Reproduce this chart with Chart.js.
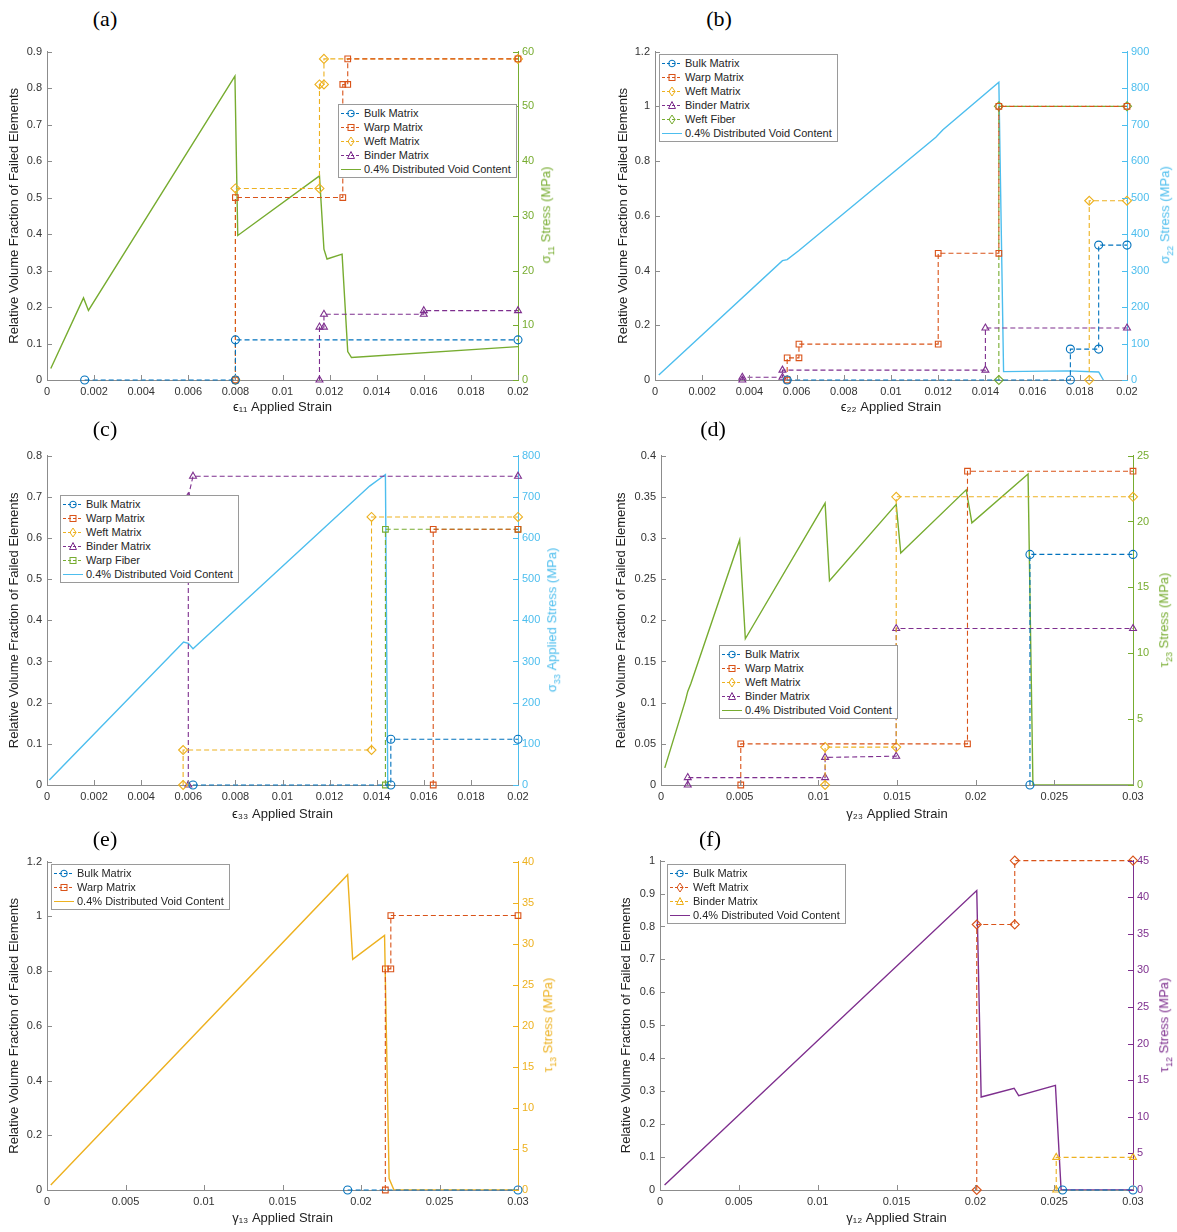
<!DOCTYPE html>
<html>
<head>
<meta charset="utf-8">
<script src="https://cdn.jsdelivr.net/npm/chart.js@4.4.0/dist/chart.umd.min.js"></script>
<style>
  body { margin: 0; background: #fff; width: 1177px; height: 1232px; position: relative; overflow: hidden;
         font-family: "Liberation Sans", Arial, Helvetica, sans-serif; }
  canvas { position: absolute; }
  .tag { position: absolute; transform: translate(-50%, -50%); font-family: "Liberation Serif", "Times New Roman", serif;
         font-size: 22px; color: #000; }
  .rtitle { position: absolute; transform: translate(-50%, -50%) rotate(-90deg); white-space: nowrap; font-size: 13px; }
  .rtitle sub { font-size: 9px; }
  .legend { position: absolute; background: #fff; border: 1px solid #9a9a9a; padding: 1px 5px 1px 1px;
            font-size: 11px; color: #262626; white-space: nowrap; }
  .legend .row { height: 14px; line-height: 14px; display: flex; align-items: center; }
  .legend svg { margin-right: 2px; }
</style>
</head>
<body>
<script>
// ---- data ----
// (a) e11
const aRange = { x: [0, 0.02, 0.002], y: [0, 0.9, 0.1], y2: [0, 60, 10] };
const aStressX = [0.00016, 0.00155, 0.00176, 0.00798, 0.0081, 0.01157, 0.01176, 0.01189, 0.01253, 0.01277, 0.01293, 0.02];
const aStressY = [2.1, 15.0, 12.7, 55.5, 26.4, 37.3, 23.9, 22.1, 23.0, 5.2, 4.1, 6.1];
const aBulkX = [0.0016, 0.008, 0.008, 0.02];
const aBulkY = [0, 0, 0.11, 0.11];
const aWarpX = [0.008, 0.008, 0.01256, 0.01256, 0.01277, 0.01277, 0.02];
const aWarpY = [0, 0.5, 0.5, 0.81, 0.81, 0.88, 0.88];
const aWeftX = [0.008, 0.008, 0.01157, 0.01157, 0.01176, 0.01176, 0.02];
const aWeftY = [0, 0.525, 0.525, 0.81, 0.81, 0.88, 0.88];
const aBinderX = [0.01157, 0.01157, 0.01176, 0.01176, 0.016, 0.016, 0.02];
const aBinderY = [0, 0.145, 0.145, 0.18, 0.18, 0.19, 0.19];

// (b) e22
const bRange = { x: [0, 0.02, 0.002], y: [0, 1.2, 0.2], y2: [0, 900, 100] };
const bStressX = [0.00016, 0.0054, 0.0056, 0.0061, 0.0119, 0.0122, 0.01457, 0.01477, 0.0175, 0.0188, 0.019];
const bStressY = [14, 327, 330, 355, 665, 686, 816, 23, 25, 22, 0];
const bBulkX = [0.0056, 0.0176, 0.0176, 0.0188, 0.0188, 0.02];
const bBulkY = [0, 0, 0.113, 0.113, 0.493, 0.493];
const bWarpX = [0.0056, 0.0056, 0.0061, 0.0061, 0.012, 0.012, 0.01457, 0.01457, 0.02];
const bWarpY = [0, 0.081, 0.081, 0.131, 0.131, 0.463, 0.463, 1, 1];
const bWeftX = [0.0184, 0.0184, 0.02];
const bWeftY = [0, 0.655, 0.655];
const bBinderX = [0.0037, 0.0037, 0.0054, 0.0054, 0.014, 0.014, 0.02];
const bBinderY = [0, 0.01, 0.01, 0.036, 0.036, 0.19, 0.19];
const bFiberX = [0.01457, 0.01457, 0.02];
const bFiberY = [0, 1, 1];

// (c) e33
const cRange = { x: [0, 0.02, 0.002], y: [0, 0.8, 0.1], y2: [0, 800, 100] };
const cStressX = [0.0001, 0.0058, 0.006, 0.0062, 0.0137, 0.01437, 0.01447, 0.0146];
const cStressY = [12, 347, 344, 331, 726, 754, 0, 0];
const cBulkX = [0.0062, 0.0146, 0.0146, 0.02];
const cBulkY = [0, 0, 0.111, 0.111];
const cWarpX = [0.0164, 0.0164, 0.02];
const cWarpY = [0, 0.621, 0.621];
const cWeftX = [0.00578, 0.00578, 0.01378, 0.01378, 0.02];
const cWeftY = [0, 0.085, 0.085, 0.651, 0.651];
const cBinderX = [0.006, 0.006, 0.0062, 0.02];
const cBinderY = [0, 0.7, 0.75, 0.75];
const cFiberX = [0.01437, 0.01437, 0.02];
const cFiberY = [0, 0.621, 0.621];

// (d) g23
const dRange = { x: [0, 0.03, 0.005], y: [0, 0.4, 0.05], y2: [0, 25, 5] };
const dStressX = [0.00024, 0.00155, 0.0017, 0.0019, 0.005, 0.00536, 0.01043, 0.01071, 0.01495, 0.01524, 0.0194, 0.01976, 0.02333, 0.02364, 0.03];
const dStressY = [1.3, 6.4, 7.1, 7.7, 18.6, 11.1, 21.4, 15.5, 21.3, 17.6, 22.4, 19.9, 23.6, 0, 0];
const dBulkX = [0.02345, 0.02345, 0.03];
const dBulkY = [0, 0.28, 0.28];
const dWarpX = [0.00507, 0.00507, 0.01948, 0.01948, 0.03];
const dWarpY = [0, 0.05, 0.05, 0.381, 0.381];
const dWeftX = [0.01043, 0.01043, 0.01495, 0.01495, 0.03];
const dWeftY = [0, 0.046, 0.046, 0.35, 0.35];
const dBinderX = [0.0017, 0.0017, 0.01043, 0.01043, 0.01495, 0.01495, 0.03];
const dBinderY = [0, 0.009, 0.009, 0.0335, 0.035, 0.19, 0.19];

// (e) g13
const eRange = { x: [0, 0.03, 0.005], y: [0, 1.2, 0.2], y2: [0, 40, 5] };
const eStressX = [0.00024, 0.01915, 0.01947, 0.0215, 0.02179, 0.0221, 0.03];
const eStressY = [0.6, 38.4, 28.1, 31.0, 1.4, 0, 0];
const eBulkX = [0.01915, 0.03];
const eBulkY = [0, 0];
const eWarpX = [0.02155, 0.02155, 0.0219, 0.0219, 0.03];
const eWarpY = [0, 0.808, 0.808, 1.003, 1.003];

// (f) g12
const fRange = { x: [0, 0.03, 0.005], y: [0, 1, 0.1], y2: [0, 45, 5] };
const fStressX = [0.00029, 0.02009, 0.02037, 0.02246, 0.02275, 0.02508, 0.02544, 0.03];
const fStressY = [0.68, 40.9, 12.7, 13.9, 12.9, 14.3, 0, 0];
const fBulkX = [0.02553, 0.03];
const fBulkY = [0, 0];
const fWeftX = [0.02009, 0.02009, 0.0225, 0.0225, 0.03];
const fWeftY = [0, 0.806, 0.806, 1, 1];
const fBinderX = [0.02513, 0.02513, 0.03];
const fBinderY = [0, 0.099, 0.099];

// MATLAB default colours
const BLUE = '#0072BD', RED = '#D95319', YELLOW = '#EDB120', PURPLE = '#7E2F8E', GREEN = '#77AC30', CYAN = '#4DBEEE';

const zip = (xs, ys) => xs.map((x, i) => ({ x: x, y: ys[i] }));
const fmt = v => String(parseFloat(Number(v).toFixed(5)));

function fail(label, color, marker, xs, ys) {
    return { label: label, color: color, marker: marker, xs: xs, ys: ys };
}

const panels = [
    { tag: '(a)', tagPos: [105, 19], box: [0, 40, 590, 378], plot: [47, 50, 518, 380], yPad: 7,
      range: aRange, xTitle: 'ϵ₁₁ Applied Strain', y2Title: 'σ<sub>11</sub> Stress (MPa)', y2Pos: 547,
      stressColor: GREEN, stress: [aStressX, aStressY], legend: [338, 104],
      series: [fail('Bulk Matrix', BLUE, 'circle', aBulkX, aBulkY),
               fail('Warp Matrix', RED, 'rect', aWarpX, aWarpY),
               fail('Weft Matrix', YELLOW, 'rectRot', aWeftX, aWeftY),
               fail('Binder Matrix', PURPLE, 'triangle', aBinderX, aBinderY)] },
    { tag: '(b)', tagPos: [719, 19], box: [590, 40, 587, 378], plot: [655, 50, 1127, 380], yPad: 26,
      range: bRange, xTitle: 'ϵ₂₂ Applied Strain', y2Title: 'σ<sub>22</sub> Stress (MPa)', y2Pos: 1166,
      stressColor: CYAN, stress: [bStressX, bStressY], legend: [659, 54],
      series: [fail('Bulk Matrix', BLUE, 'circle', bBulkX, bBulkY),
               fail('Warp Matrix', RED, 'rect', bWarpX, bWarpY),
               fail('Weft Matrix', YELLOW, 'rectRot', bWeftX, bWeftY),
               fail('Binder Matrix', PURPLE, 'triangle', bBinderX, bBinderY),
               fail('Weft Fiber', GREEN, 'rectRot', bFiberX, bFiberY)] },
    { tag: '(c)', tagPos: [105, 429], box: [0, 444, 590, 381], plot: [47, 454, 518, 785], yPad: 7,
      range: cRange, xTitle: 'ϵ₃₃ Applied Strain', y2Title: 'σ<sub>33</sub> Applied Stress (MPa)', y2Pos: 553,
      stressColor: CYAN, stress: [cStressX, cStressY], legend: [60, 495],
      series: [fail('Bulk Matrix', BLUE, 'circle', cBulkX, cBulkY),
               fail('Warp Matrix', RED, 'rect', cWarpX, cWarpY),
               fail('Weft Matrix', YELLOW, 'rectRot', cWeftX, cWeftY),
               fail('Binder Matrix', PURPLE, 'triangle', cBinderX, cBinderY),
               fail('Warp Fiber', GREEN, 'rect', cFiberX, cFiberY)] },
    { tag: '(d)', tagPos: [713, 429], box: [590, 444, 587, 381], plot: [661, 454, 1133, 785], yPad: 24,
      range: dRange, xTitle: 'γ₂₃ Applied Strain', y2Title: 'τ<sub>23</sub> Stress (MPa)', y2Pos: 1165,
      stressColor: GREEN, stress: [dStressX, dStressY], legend: [719, 645],
      series: [fail('Bulk Matrix', BLUE, 'circle', dBulkX, dBulkY),
               fail('Warp Matrix', RED, 'rect', dWarpX, dWarpY),
               fail('Weft Matrix', YELLOW, 'rectRot', dWeftX, dWeftY),
               fail('Binder Matrix', PURPLE, 'triangle', dBinderX, dBinderY)] },
    { tag: '(e)', tagPos: [105, 839], box: [0, 850, 590, 379], plot: [47, 860, 518, 1190], yPad: 7,
      range: eRange, xTitle: 'γ₁₃ Applied Strain', y2Title: 'τ<sub>13</sub> Stress (MPa)', y2Pos: 549,
      stressColor: YELLOW, stress: [eStressX, eStressY], legend: [51, 864],
      series: [fail('Bulk Matrix', BLUE, 'circle', eBulkX, eBulkY),
               fail('Warp Matrix', RED, 'rect', eWarpX, eWarpY)] },
    { tag: '(f)', tagPos: [710, 839], box: [590, 849, 587, 380], plot: [660, 859, 1133, 1190], yPad: 29,
      range: fRange, xTitle: 'γ₁₂ Applied Strain', y2Title: 'τ<sub>12</sub> Stress (MPa)', y2Pos: 1165,
      stressColor: PURPLE, stress: [fStressX, fStressY], legend: [667, 864],
      series: [fail('Bulk Matrix', BLUE, 'circle', fBulkX, fBulkY),
               fail('Weft Matrix', RED, 'rectRot', fWeftX, fWeftY),
               fail('Binder Matrix', YELLOW, 'triangle', fBinderX, fBinderY)] }
];

Chart.defaults.font.family = '"Liberation Sans", Arial, Helvetica, sans-serif';
Chart.defaults.font.size = 11;
Chart.defaults.color = '#333';

// MATLAB style ticks pointing into the plot
const inwardTicks = {
    id: 'inwardTicks',
    afterDraw(chart) {
        const ctx = chart.ctx, a = chart.chartArea;
        ctx.save();
        ctx.lineWidth = 1;
        ['x', 'y', 'y2'].forEach(id => {
            const s = chart.scales[id];
            ctx.strokeStyle = s.options.border.color;
            s.ticks.forEach(t => {
                const p = Math.round(s.getPixelForValue(t.value)) + 0.5;
                ctx.beginPath();
                if (id === 'x') { ctx.moveTo(p, a.bottom); ctx.lineTo(p, a.bottom - 5); }
                else if (id === 'y') { ctx.moveTo(a.left, p); ctx.lineTo(a.left + 5, p); }
                else { ctx.moveTo(a.right, p); ctx.lineTo(a.right - 5, p); }
                ctx.stroke();
            });
        });
        ctx.restore();
    }
};

function legendSymbol(ds) {
    const c = ds.borderColor;
    const dash = ds.borderDash && ds.borderDash.length ? ' stroke-dasharray="3 2"' : '';
    const st = 'fill="none" stroke="' + c + '" stroke-width="1"';
    let m = '';
    if (ds.pointStyle === 'circle') m = '<circle cx="11" cy="7.5" r="3.3" ' + st + '/>';
    else if (ds.pointStyle === 'rect') m = '<rect x="8" y="4.5" width="6" height="6" ' + st + '/>';
    else if (ds.pointStyle === 'rectRot') m = '<polygon points="11,3 14,7.5 11,12 8,7.5" ' + st + '/>';
    else if (ds.pointStyle === 'triangle') m = '<polygon points="11,3.5 14.5,10.5 7.5,10.5" ' + st + '/>';
    return '<svg width="22" height="14"><line x1="1" y1="7.5" x2="21" y2="7.5" stroke="' + c + '" stroke-width="1"' + dash + '/>' + m + '</svg>';
}

panels.forEach(p => {
    const cv = document.createElement('canvas');
    cv.width = p.box[2];
    cv.height = p.box[3];
    cv.style.left = p.box[0] + 'px';
    cv.style.top = p.box[1] + 'px';
    document.body.appendChild(cv);

    const leftW = p.plot[0] - p.box[0];
    const rightW = p.box[0] + p.box[2] - p.plot[2];
    const topPad = p.plot[1] - p.box[1];
    const bottomH = p.box[1] + p.box[3] - p.plot[3];

    const datasets = p.series.map(s => ({
        label: s.label,
        data: zip(s.xs, s.ys),
        yAxisID: 'y',
        borderColor: s.color,
        borderWidth: 1.1,
        borderDash: [5, 3],
        pointStyle: s.marker,
        pointRadius: s.marker === 'rectRot' ? 4.5 : 4,
        pointBorderColor: s.color,
        pointBackgroundColor: 'rgba(255,255,255,0)',
        pointBorderWidth: 1.1,
        fill: false,
        clip: false
    }));
    datasets.push({
        label: '0.4% Distributed Void Content',
        data: zip(p.stress[0], p.stress[1]),
        yAxisID: 'y2',
        borderColor: p.stressColor,
        borderWidth: 1.4,
        pointRadius: 0,
        fill: false
    });

    const chart = new Chart(cv.getContext('2d'), {
        type: 'line',
        data: { datasets: datasets },
        options: {
            responsive: false,
            animation: false,
            devicePixelRatio: 1,
            layout: { padding: { top: topPad, left: 0, right: 0, bottom: 0 } },
            plugins: { legend: { display: false }, tooltip: { enabled: false } },
            scales: {
                x: {
                    type: 'linear', min: p.range.x[0], max: p.range.x[1],
                    ticks: { stepSize: p.range.x[2], callback: fmt, maxRotation: 0, autoSkip: false, padding: 5, color: '#333' },
                    grid: { display: false, drawTicks: false },
                    border: { display: true, color: '#8c8c8c' },
                    title: { display: true, text: p.xTitle, font: { size: 13 }, color: '#222', padding: { top: 0, bottom: 3 } },
                    afterFit: s => { s.height = bottomH; }
                },
                y: {
                    position: 'left', min: p.range.y[0], max: p.range.y[1],
                    ticks: { stepSize: p.range.y[2], callback: fmt, padding: 5, color: '#333' },
                    grid: { display: false, drawTicks: false },
                    border: { display: true, color: '#8c8c8c' },
                    title: { display: true, text: 'Relative Volume Fraction of Failed Elements', font: { size: 13 }, color: '#222', padding: { top: p.yPad, bottom: 0 } },
                    afterFit: s => { s.width = leftW; }
                },
                y2: {
                    position: 'right', min: p.range.y2[0], max: p.range.y2[1],
                    ticks: { stepSize: p.range.y2[2], callback: fmt, padding: 4, color: p.stressColor },
                    grid: { display: false, drawTicks: false },
                    border: { display: true, color: p.stressColor },
                    afterFit: s => { s.width = rightW; }
                }
            }
        },
        plugins: [inwardTicks]
    });

    // panel tag
    const tag = document.createElement('div');
    tag.className = 'tag';
    tag.textContent = p.tag;
    tag.style.left = p.tagPos[0] + 'px';
    tag.style.top = p.tagPos[1] + 'px';
    document.body.appendChild(tag);

    // right axis title, reading bottom to top like the left one
    const rt = document.createElement('div');
    rt.className = 'rtitle';
    rt.innerHTML = p.y2Title;
    rt.style.color = p.stressColor;
    rt.style.left = p.y2Pos + 'px';
    rt.style.top = ((p.plot[1] + p.plot[3]) / 2) + 'px';
    document.body.appendChild(rt);

    // legend box built from the chart's datasets
    const lg = document.createElement('div');
    lg.className = 'legend';
    lg.style.left = p.legend[0] + 'px';
    lg.style.top = p.legend[1] + 'px';
    chart.data.datasets.forEach(ds => {
        const row = document.createElement('div');
        row.className = 'row';
        row.innerHTML = legendSymbol(ds) + '<span>' + ds.label + '</span>';
        lg.appendChild(row);
    });
    document.body.appendChild(lg);
});
</script>
</body>
</html>
